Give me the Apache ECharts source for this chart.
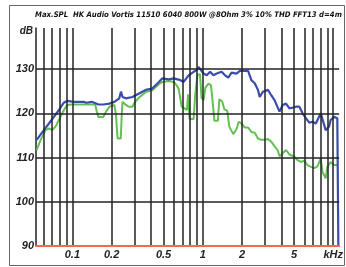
<!DOCTYPE html>
<html lang="en">

<head>
  <meta charset="UTF-8">
  <title>Max.SPL HK Audio Vortis</title>
  <script src="https://cdn.jsdelivr.net/npm/echarts@6/dist/echarts.min.js"></script>
  <style>
    html, body { margin: 0; padding: 0; background: #fff; }
  </style>
</head>

<body>
  <div id="spl" style="width:346px;height:267px;"></div>
</body>

</html>
<script type="text/javascript">
  // frequency in kHz, level in dB
  let blueFreq = [0.0533, 0.0564, 0.0605, 0.0661, 0.0721, 0.0787, 0.0859, 0.0910, 0.1023, 0.1219, 0.1284, 0.1409,
    0.1584, 0.1729, 0.1920, 0.2097, 0.2288, 0.2357, 0.2423, 0.2572, 0.2887, 0.3246, 0.3650, 0.4097, 0.4607, 0.4881,
    0.5486, 0.5989, 0.6734, 0.7134, 0.7787, 0.8500, 0.9002, 0.9275, 0.9555, 1.012, 1.072, 1.138, 1.206, 1.278,
    1.394, 1.480, 1.568, 1.661, 1.813, 1.924, 2.225, 2.357, 2.502, 2.650, 2.731, 2.892, 3.157, 3.345, 3.549,
    3.874, 4.105, 4.348, 4.615, 5.180, 5.497, 5.824, 6.170, 6.548, 6.938, 7.350, 8.024, 8.266, 8.756, 9.292,
    9.556, 10.14, 10.75, 10.95, 10.95];
  let blueDb = [114.0, 115.0, 116.2, 117.7, 119.2, 120.7, 122.4, 122.8, 122.6, 122.6, 122.4, 122.6,
    122.0, 122.0, 122.2, 122.6, 123.4, 124.9, 123.7, 123.4, 123.7, 124.5, 125.3, 125.6, 127.1, 127.9,
    127.7, 127.9, 127.5, 127.1, 128.6, 129.4, 129.8, 130.5, 130.2, 129.0, 128.6, 129.4, 128.6, 129.0,
    129.4, 128.6, 128.1, 129.2, 129.0, 129.6, 129.6, 127.5, 126.8, 125.3, 123.7, 124.9, 125.3, 124.1, 123.0,
    120.4, 121.9, 122.2, 121.1, 121.5, 121.5, 120.0, 118.9, 117.9, 118.1, 117.7, 120.0, 120.2, 116.2, 117.0,
    118.5, 119.2, 118.9, 118.9, 90];

  let greenFreq = [0.0532, 0.0571, 0.0623, 0.0661, 0.0700, 0.0743, 0.0787, 0.0859, 0.0910, 0.0993, 0.1219, 0.1496,
    0.1538, 0.1584, 0.1612, 0.1729, 0.1813, 0.1920, 0.2097, 0.2160, 0.2221, 0.2349, 0.2390, 0.2423, 0.2572,
    0.2700, 0.2887, 0.3000, 0.3246, 0.3650, 0.4097, 0.4607, 0.4881, 0.5486, 0.5989, 0.6344, 0.6537, 0.6888,
    0.7557, 0.7718, 0.7924, 0.8500, 0.8754, 0.9115, 0.9521, 0.9775, 1.012, 1.048, 1.105, 1.154, 1.185, 1.227,
    1.305, 1.339, 1.411, 1.462, 1.541, 1.596, 1.712, 1.813, 1.884, 1.979, 2.100, 2.225, 2.357, 2.502, 2.650,
    2.808, 2.980, 3.157, 3.345, 3.549, 3.760, 3.874, 4.105, 4.348, 4.615, 5.036, 5.336, 5.653, 5.979, 6.357,
    6.735, 7.146, 7.573, 8.024, 8.266, 8.756, 9.020, 9.556, 10.14, 10.74];
  let greenDb = [111.7, 114.0, 116.2, 116.6, 116.2, 117.0, 118.5, 120.7, 121.9, 122.0, 122.0, 122.0,
    120.4, 119.2, 119.6, 119.2, 120.4, 121.5, 121.9, 119.6, 114.3, 114.3, 119.6, 122.6, 121.9,
    121.5, 121.5, 122.4, 123.6, 124.8, 125.2, 126.6, 127.1, 127.3, 127.1, 126.2, 125.5, 121.5,
    120.8, 124.3, 118.7, 118.7, 124.3, 128.8, 128.8, 123.5, 123.0, 125.8, 126.7, 126.4, 123.2, 118.3,
    118.3, 123.2, 122.6, 120.9, 120.6, 117.0, 115.3, 116.4, 118.1, 117.7, 116.8, 116.8, 115.8, 115.6, 114.3,
    114.0, 114.0, 114.2, 113.6, 112.6, 111.6, 110.3, 111.0, 111.7, 110.7, 110.2, 109.4, 109.0, 109.3, 108.3,
    107.9, 107.6, 108.0, 109.8, 106.8, 105.3, 107.9, 109.0, 108.3, 108.3];

  let freqGrid = [0.06, 0.07, 0.08, 0.09, 0.1, 0.2, 0.3, 0.4, 0.5, 0.6, 0.7, 0.8, 0.9, 1, 2, 3, 4, 5, 6, 7, 8, 9, 10];
  let dbGrid = [100, 110, 120, 130];
  let freqLabels = [0.1, 0.2, 0.5, 1, 2, 5, 10];
  let dbLabels = [90, 100, 110, 120, 130];

  let titleText = 'Max.SPL  HK Audio Vortis 11510 6040 800W @8Ohm 3% 10% THD FFT13 d=4m';

  let spl = echarts.init(document.getElementById('spl'));

  let labelFont = {
    color: '#222',
    fontFamily: 'Liberation Sans',
    fontWeight: 'bold',
    fontStyle: 'italic',
    fontSize: 11
  };

  let gridLines = freqGrid.map(function (f) { return { xAxis: f }; })
    .concat(dbGrid.map(function (d) { return { yAxis: d }; }));

  let splOption = {
    animation: false,
    backgroundColor: '#fff',
    title: {
      text: titleText,
      left: 35,
      top: 11,
      padding: 0,
      textStyle: {
        color: '#111',
        fontFamily: "'DejaVu Sans Condensed', 'Liberation Sans', sans-serif",
        fontWeight: 'bold',
        fontStyle: 'italic',
        fontSize: 7.7
      }
    },
    graphic: [{
      type: 'rect',
      shape: { x: 9.5, y: 5.5, width: 335, height: 260 },
      style: { fill: 'none', stroke: '#666', lineWidth: 1 },
      silent: true
    }],
    grid: {
      left: 36,
      right: 4,
      top: 28,
      bottom: 21
    },
    xAxis: {
      type: 'log',
      logBase: 10,
      min: 0.0526,
      max: 11.1,
      z: 5,
      axisLine: { lineStyle: { color: '#f26a4f', width: 2 } },
      axisTick: { show: false },
      splitLine: { show: false },
      axisLabel: Object.assign({
        customValues: freqLabels,
        margin: 3,
        formatter: function (v) { return v >= 10 ? 'kHz' : String(v); }
      }, labelFont)
    },
    yAxis: {
      type: 'value',
      min: 90,
      max: 139.3,
      name: 'dB',
      nameLocation: 'end',
      nameGap: -3,
      nameTextStyle: Object.assign({
        align: 'right',
        verticalAlign: 'middle',
        padding: [0, 3, 0, 0]
      }, labelFont, { fontSize: 10 }),
      axisLine: { show: true, lineStyle: { color: '#222', width: 1.5 } },
      axisTick: { show: false },
      splitLine: { show: false },
      axisLabel: Object.assign({
        customValues: dbLabels,
        margin: 2
      }, labelFont)
    },
    series: [{
      name: 'grid',
      type: 'line',
      data: [],
      silent: true,
      markLine: {
        silent: true,
        symbol: 'none',
        label: { show: false },
        lineStyle: { color: '#222', width: 1.5, type: 'solid' },
        data: gridLines
      }
    }, {
      name: 'THD 10%',
      type: 'line',
      symbol: 'none',
      data: greenFreq.map(function (f, i) { return [f, greenDb[i]]; }),
      lineStyle: { color: '#62c152', width: 2 },
      z: 3
    }, {
      name: 'THD 3%',
      type: 'line',
      symbol: 'none',
      data: blueFreq.map(function (f, i) { return [f, blueDb[i]]; }),
      lineStyle: { color: '#3a4cae', width: 2.2 },
      z: 4
    }]
  };
  spl.setOption(splOption);
</script>
